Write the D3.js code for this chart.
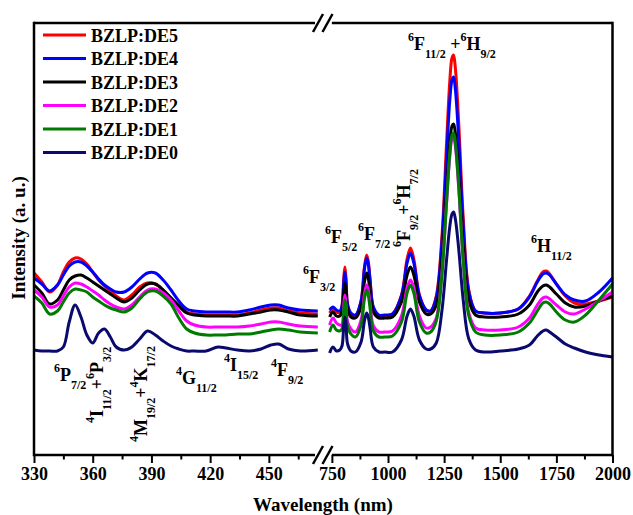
<!DOCTYPE html>
<html>
<head>
<meta charset="utf-8">
<script src="https://cdn.jsdelivr.net/npm/d3@7/dist/d3.min.js"></script>
<style>
  html, body { margin: 0; padding: 0; background: #fff; }
  svg { display: block; }
  text { font-family: "Liberation Serif", "Times New Roman", serif; font-weight: bold; fill: #000; }
</style>
</head>
<body>
<svg id="chart" width="633" height="515"></svg>
<script>
// Absorption spectra, two wavelength windows separated by an axis break.
const leftNm = [330, 334, 338, 342, 345, 348, 351, 354, 357, 360, 363, 366, 369, 372, 376, 380, 384, 388, 392, 396, 400, 404, 408, 412, 418, 424, 428, 434, 440, 446, 451, 455, 460, 466, 475];
const rightNm = [740, 755, 770, 785, 795, 803, 808, 813, 820, 835, 855, 880, 895, 905, 912, 920, 935, 960, 985, 1020, 1060, 1085, 1100, 1115, 1140, 1170, 1190, 1215, 1240, 1260, 1275, 1285, 1292, 1300, 1315, 1335, 1360, 1390, 1430, 1500, 1580, 1630, 1665, 1690, 1705, 1720, 1750, 1790, 1830, 1880, 1940, 2000];

const seriesNames = ["BZLP:DE5", "BZLP:DE4", "BZLP:DE3", "BZLP:DE2", "BZLP:DE1", "BZLP:DE0"];
const seriesColors = ["#ff0000", "#0000ff", "#000000", "#ff00ff", "#007a00", "#0a0a6e"];

const de5Left = [183, 174, 164, 171, 184, 194, 198, 197, 192, 184, 176, 170, 165, 160, 156, 161, 169, 173, 172, 166, 158, 151, 144, 142, 141, 141, 141, 141, 143, 146, 148, 148, 145, 143, 142];
const de4Left = [178, 172, 165, 171, 181, 190, 194, 194, 190, 184, 177, 171, 167, 164, 164, 169, 177, 183, 183, 176, 166, 155, 147, 145, 144, 144, 144, 144, 146, 149, 151, 151, 148, 146, 145];
const de3Left = [171, 163, 152, 156, 166, 176, 180, 181, 178, 174, 170, 166, 162, 158, 154, 158, 166, 172, 172, 166, 158, 150, 143, 141, 140, 140, 140, 140, 142, 144, 146, 146, 144, 141, 140];
const de2Left = [166, 159, 149, 151, 160, 169, 173, 172, 169, 165, 161, 156, 152, 149, 147, 151, 159, 166, 167, 163, 156, 145, 135, 131, 129, 129, 129, 129, 130, 132, 134, 134, 132, 130, 129];
const de1Left = [160, 153, 142, 145, 154, 163, 167, 166, 164, 159, 155, 151, 148, 146, 144, 148, 157, 164, 165, 160, 152, 138, 127, 123, 121, 121, 121, 122, 122, 124, 126, 127, 126, 124, 123];
const de0Left = [106, 105, 105, 105, 109, 134, 151, 139, 121, 113, 123, 127, 119, 109, 106, 109, 117, 125, 121, 115, 110, 107, 105, 105, 105, 109, 108, 106, 105, 107, 111, 112, 107, 105, 106];

const de5Right = [143, 147, 144, 143, 150, 178, 189, 178, 152, 142, 140, 155, 189, 201, 195, 177, 148, 140, 140, 142, 161, 197, 208, 197, 161, 146, 145, 160, 219, 309, 374, 398, 401, 388, 333, 239, 166, 145, 143, 143, 147, 160, 175, 184, 185, 182, 172, 160, 153, 152, 155, 159];
const de4Right = [146, 149, 146, 145, 150, 174, 184, 174, 151, 143, 141, 155, 187, 198, 192, 176, 149, 141, 141, 142, 160, 193, 203, 193, 160, 146, 145, 158, 213, 295, 355, 376, 379, 367, 317, 230, 164, 145, 143, 143, 147, 159, 174, 182, 183, 181, 172, 161, 156, 155, 164, 178];
const de3Right = [139, 144, 140, 140, 144, 165, 173, 165, 146, 139, 138, 149, 174, 183, 178, 165, 144, 138, 138, 139, 154, 181, 189, 181, 154, 142, 142, 151, 196, 263, 312, 330, 332, 323, 281, 210, 156, 141, 139, 139, 142, 151, 164, 170, 171, 169, 162, 153, 149, 150, 155, 160];
const de2Right = [131, 138, 133, 131, 131, 152, 161, 152, 134, 127, 124, 136, 162, 171, 166, 153, 130, 124, 124, 125, 140, 168, 176, 168, 140, 128, 129, 138, 183, 250, 299, 317, 319, 310, 268, 197, 143, 128, 126, 126, 129, 138, 151, 158, 159, 157, 151, 144, 142, 147, 155, 164];
const de1Right = [124, 131, 126, 125, 127, 148, 156, 148, 129, 122, 119, 131, 157, 166, 161, 148, 125, 119, 119, 120, 134, 163, 171, 163, 134, 123, 124, 135, 181, 251, 302, 321, 323, 313, 270, 196, 140, 124, 121, 121, 124, 133, 145, 153, 154, 152, 144, 136, 134, 141, 156, 172];
const de0Right = [103, 109, 105, 106, 110, 131, 139, 131, 112, 105, 104, 114, 135, 143, 139, 128, 109, 104, 104, 104, 116, 140, 147, 140, 116, 107, 107, 113, 145, 194, 229, 242, 244, 237, 207, 156, 117, 106, 104, 105, 107, 111, 120, 125, 126, 124, 119, 112, 108, 104, 101, 99];

const leftValues = [de5Left, de4Left, de3Left, de2Left, de1Left, de0Left];
const rightValues = [de5Right, de4Right, de3Right, de2Right, de1Right, de0Right];

const leftTicks = [330, 360, 390, 420, 450];
const leftMinor = [345, 375, 405, 435, 465];
const rightTicks = [750, 1000, 1250, 1500, 1750, 2000];
const rightMinor = [875, 1125, 1375, 1625, 1875];

// Band assignments: parts are [text, "n" | "sup" | "sub"]
const bandLabels = [
  { x: 54, y: 381, rot: 0, parts: [["6", "sup"], ["P", "n"], ["7/2", "sub"]] },
  { x: 103, y: 423, rot: -90, parts: [["4", "sup"], ["I", "n"], ["11/2", "sub"], ["+", "n"], ["6", "sup"], ["P", "n"], ["3/2", "sub"]] },
  { x: 147, y: 442, rot: -90, parts: [["4", "sup"], ["M", "n"], ["19/2", "sub"], ["+", "n"], ["4", "sup"], ["K", "n"], ["17/2", "sub"]] },
  { x: 176, y: 384, rot: 0, parts: [["4", "sup"], ["G", "n"], ["11/2", "sub"]] },
  { x: 224, y: 371, rot: 0, parts: [["4", "sup"], ["I", "n"], ["15/2", "sub"]] },
  { x: 271, y: 376, rot: 0, parts: [["4", "sup"], ["F", "n"], ["9/2", "sub"]] },
  { x: 303, y: 283, rot: 0, parts: [["6", "sup"], ["F", "n"], ["3/2", "sub"]] },
  { x: 325, y: 243, rot: 0, parts: [["6", "sup"], ["F", "n"], ["5/2", "sub"]] },
  { x: 358, y: 240, rot: 0, parts: [["6", "sup"], ["F", "n"], ["7/2", "sub"]] },
  { x: 410, y: 247, rot: -90, parts: [["6", "sup"], ["F", "n"], ["9/2", "sub"], ["+", "n"], ["6", "sup"], ["H", "n"], ["7/2", "sub"]] },
  { x: 408, y: 50, rot: 0, parts: [["6", "sup"], ["F", "n"], ["11/2", "sub"], ["\u00a0+", "n"], ["6", "sup"], ["H", "n"], ["9/2", "sub"]] },
  { x: 531, y: 252, rot: 0, parts: [["6", "sup"], ["H", "n"], ["11/2", "sub"]] }
];

const plot = { left: 34, right: 612.5, top: 23, bottom: 455 };

const x1 = d3.scaleLinear().domain([330, 475]).range([plot.left, 317.8]);
const x2 = d3.scaleLinear().domain([706, 2000]).range([322, plot.right]);
const y = d3.scaleLinear().domain([1, 433]).range([plot.bottom, plot.top]);

const svg = d3.select("#chart");

// spectra: DE5 first, DE0 last (on top)
const line1 = d3.line().x(d => x1(d[0])).y(d => y(d[1])).curve(d3.curveCatmullRom.alpha(0.5));
const line2 = d3.line().x(d => x2(d[0])).y(d => y(d[1])).curve(d3.curveCatmullRom.alpha(0.5));

const curves = svg.append("g").attr("fill", "none").attr("stroke-width", 3)
  .attr("stroke-linejoin", "round").attr("stroke-linecap", "butt");
seriesNames.forEach((name, i) => {
  curves.append("path")
    .attr("d", line1(leftNm.map((nm, k) => [nm, leftValues[i][k]])))
    .attr("stroke", seriesColors[i]);
  curves.append("path")
    .attr("d", line2(rightNm.map((nm, k) => [nm, rightValues[i][k]])))
    .attr("stroke", seriesColors[i]);
});

// frame with axis break
const breakL = 315, breakR = x2(750);
const frame = svg.append("g").attr("stroke", "#000").attr("stroke-width", 2.5).attr("fill", "none");
[plot.top, plot.bottom].forEach(yy => {
  frame.append("line").attr("x1", plot.left).attr("x2", breakL).attr("y1", yy).attr("y2", yy);
  frame.append("line").attr("x1", breakR).attr("x2", plot.right).attr("y1", yy).attr("y2", yy);
  [318, 327.5].forEach(cx => {
    frame.append("line").attr("x1", cx - 5).attr("y1", yy + 9).attr("x2", cx + 5).attr("y2", yy - 9);
  });
});
frame.append("line").attr("x1", plot.left).attr("x2", plot.left).attr("y1", plot.top - 1.25).attr("y2", plot.bottom + 1.25);
frame.append("line").attr("x1", plot.right).attr("x2", plot.right).attr("y1", plot.top - 1.25).attr("y2", plot.bottom + 1.25);

// x axes
function styleAxis(g) {
  g.select(".domain").remove();
  g.selectAll(".tick line").attr("stroke", "#000").attr("stroke-width", 2);
  g.selectAll(".tick text").attr("font-size", 18).attr("font-family", "Liberation Serif, serif").attr("font-weight", "bold");
}
const axisY = plot.bottom;
svg.append("g").attr("transform", `translate(0,${axisY})`)
  .call(d3.axisBottom(x1).tickValues(leftTicks).tickSize(8).tickPadding(4).tickFormat(d3.format("d")))
  .call(styleAxis);
svg.append("g").attr("transform", `translate(0,${axisY})`)
  .call(d3.axisBottom(x1).tickValues(leftMinor).tickSize(4.5).tickFormat(""))
  .call(styleAxis);
svg.append("g").attr("transform", `translate(0,${axisY})`)
  .call(d3.axisBottom(x2).tickValues(rightTicks).tickSize(8).tickPadding(4).tickFormat(d3.format("d")))
  .call(styleAxis);
svg.append("g").attr("transform", `translate(0,${axisY})`)
  .call(d3.axisBottom(x2).tickValues(rightMinor).tickSize(4.5).tickFormat(""))
  .call(styleAxis);

// axis titles
svg.append("text").attr("x", 323).attr("y", 511).attr("text-anchor", "middle")
  .attr("font-size", 19).text("Wavelength (nm)");
svg.append("text").attr("transform", "translate(25,238) rotate(-90)").attr("text-anchor", "middle")
  .attr("font-size", 19).text("Intensity (a. u.)");

// legend
const legend = svg.append("g");
seriesNames.forEach((name, i) => {
  const ly = 35 + i * 23.5;
  legend.append("line").attr("x1", 43).attr("x2", 86).attr("y1", ly).attr("y2", ly)
    .attr("stroke", seriesColors[i]).attr("stroke-width", 3);
  legend.append("text").attr("x", 91).attr("y", ly + 6.5).attr("font-size", 18).text(name);
});

// band labels
const shift = { n: 0, sup: -9, sub: 8 };
bandLabels.forEach(lb => {
  const t = svg.append("text")
    .attr("transform", `translate(${lb.x},${lb.y}) rotate(${lb.rot})`)
    .attr("font-size", 18);
  let cur = 0;
  lb.parts.forEach(([txt, kind]) => {
    const target = shift[kind];
    t.append("tspan").attr("dy", target - cur)
      .attr("font-size", kind === "n" ? 18 : 12).text(txt);
    cur = target;
  });
});
</script>
</body>
</html>
